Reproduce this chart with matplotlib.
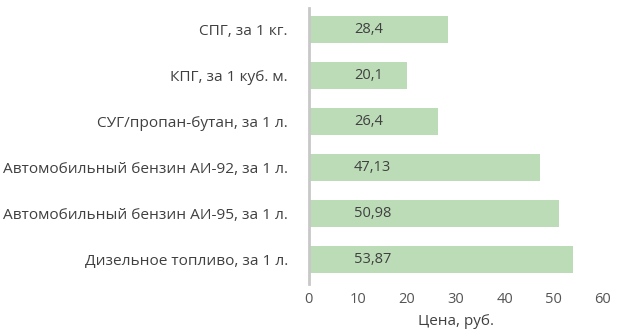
import matplotlib.pyplot as plt

# ======================
# Данные
# ======================
categories = [
    "СПГ, за 1 кг.",
    "КПГ, за 1 куб. м.",
    "СУГ/пропан-бутан, за 1 л.",
    "Автомобильный бензин АИ-92, за 1 л.",
    "Автомобильный бензин АИ-95, за 1 л.",
    "Дизельное топливо, за 1 л.",
]
prices = [28.4, 20.1, 26.4, 47.13, 50.98, 53.87]
price_labels = ["28,4", "20,1", "26,4", "47,13", "50,98", "53,87"]
x_ticks = [0, 10, 20, 30, 40, 50, 60]

BAR_COLOR = '#bcdcb8'
TEXT_COLOR = '#404040'
SPINE_COLOR = '#c8c8c8'

plt.rcParams['font.family'] = ['Open Sans', 'DejaVu Sans']

fig = plt.figure(figsize=(6.3, 3.36), dpi=100)
ax = fig.add_axes([0.49, 0.155, 0.467, 0.82])

y = list(range(len(categories)))
ax.barh(y, prices, height=0.6, color=BAR_COLOR)

for yi, lab in zip(y, price_labels):
    ax.text(9.2, yi, lab, va='center', ha='left', fontsize=10.5, color=TEXT_COLOR)

ax.set_yticks(y)
ax.set_yticklabels(categories, fontsize=11.1, color=TEXT_COLOR)
ax.set_xticks(x_ticks)
ax.set_xticklabels([str(t) for t in x_ticks], fontsize=10.5, color='#555555')
ax.set_xlim(0, 60)
ax.set_ylim(5.53, -0.46)
ax.tick_params(axis='both', length=0)
ax.tick_params(axis='y', pad=15)
ax.tick_params(axis='x', pad=6)

for s in ['top', 'right', 'bottom']:
    ax.spines[s].set_visible(False)
ax.spines['left'].set_color(SPINE_COLOR)
ax.spines['left'].set_linewidth(2)

ax.set_xlabel("Цена, руб.", fontsize=11, color=TEXT_COLOR, labelpad=5)

fig.savefig("out.png", dpi=100)
